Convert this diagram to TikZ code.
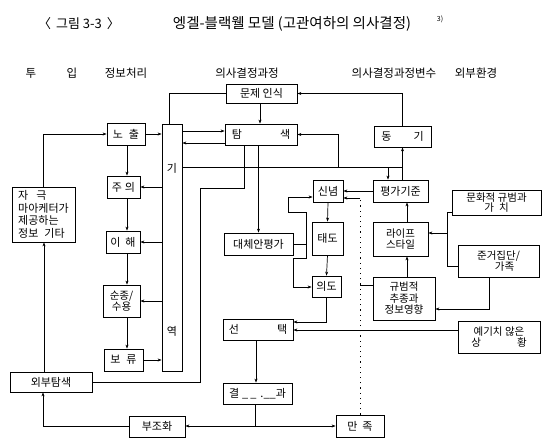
\documentclass[tikz,border=0pt]{standalone}
\usepackage{fontspec}
\setmainfont{Noto Sans CJK KR}
\usetikzlibrary{arrows.meta,calc}
\begin{document}
\begin{tikzpicture}[x=1pt,y=-1pt,
  box/.style={draw, line width=0.8pt, inner sep=1pt, font=\fontsize{11}{12}\selectfont, align=center},
  lbl/.style={inner sep=0pt, font=\fontsize{11}{12}\selectfont},
  hdr/.style={inner sep=0pt, font=\fontsize{11.5}{12}\selectfont},
  arr/.style={line width=0.7pt, -{Stealth[length=4pt,width=3pt]}},
  ln/.style={line width=0.7pt},
  dots/.style={line width=0.8pt, dash pattern=on 1.2pt off 4pt}]
\fill[white] (0,0) rectangle (552,442);
\useasboundingbox (0,0) rectangle (552,442);

% title
\node[inner sep=0pt, font=\fontsize{13}{15}\selectfont] (t1) at (79,24) {〈\hspace{5pt}그림 3-3\hspace{5pt}〉};
\node[inner sep=0pt, font=\fontsize{14.5}{16}\selectfont] (t2) at (292,24) {엥겔-블랙웰 모델 (고관여하의 의사결정)};
\node[inner sep=0pt, font=\fontsize{7}{8}\selectfont] (t3) at (440,19) {3)};

% headers
\node[hdr] (h1) at (31,73) {투};
\node[hdr] (h2) at (72,73) {입};
\node[hdr] (h3) at (126,73) {정보처리};
\node[hdr] (h4) at (247,73) {의사결정과정};
\node[hdr] (h5) at (394,73) {의사결정과정변수};
\node[hdr] (h6) at (476,73) {외부환경};

% information processing
\node[box, minimum width=38pt, minimum height=22pt] (noch) at (126,134) {노\hspace{6pt}출};
\node[box, minimum width=20pt, minimum height=247pt] (mem) at (172,247.5) {};
\node[lbl] (mk1) at (172,168) {기};
\node[lbl] (mk2) at (172,331) {역};
\node[box, minimum width=33pt, minimum height=22pt] (jui) at (123.5,187) {주\hspace{3pt}의};
\node[box, minimum width=63pt, minimum height=55pt, align=left, font=\fontsize{11}{12.5}\selectfont] (stim) at (43.5,214.5) {자\hspace{8pt}극\\마아케터가\\제공하는\\정보\hspace{6pt}기타};
\node[box, minimum width=34pt, minimum height=22pt] (ihae) at (123,242) {이\hspace{5pt}해};
\node[box, minimum width=37pt, minimum height=32pt, font=\fontsize{10.5}{11.5}\selectfont] (sun) at (121.5,301) {순종/\\수용};
\node[box, minimum width=39pt, minimum height=22pt] (bory) at (123.5,360) {보\hspace{6pt}류};
\node[box, minimum width=82pt, minimum height=20pt] (ext) at (51,382) {외부탐색};
\node[box, minimum width=56pt, minimum height=21pt] (buj) at (157,426.5) {부조화};

% decision process
\node[box, minimum width=71pt, minimum height=19pt] (prob) at (261.5,93.5) {문제 인식};
\node[box, minimum width=72pt, minimum height=21pt] (srch) at (261,134.5) {탐\hspace{38pt}색};
\node[box, minimum width=69pt, minimum height=22pt] (alt) at (258.5,244) {대체안평가};
\node[box, minimum width=70pt, minimum height=21pt] (choice) at (258,329.5) {선\hspace{38pt}택};
\node[box, minimum width=69pt, minimum height=21pt] (res) at (257.5,393.5) {결\hspace{3pt}\_\hspace{2pt}\_\hspace{4pt}.\_\_과};
\node[box, minimum width=48pt, minimum height=22pt] (sat) at (360,426) {만\hspace{5pt}족};

% variables
\node[box, minimum width=30pt, minimum height=22pt] (belief) at (328,191) {신념};
\node[box, minimum width=31pt, minimum height=33pt] (att) at (327.5,238.5) {태도};
\node[box, minimum width=29pt, minimum height=21pt] (int) at (326.5,286.5) {의도};
\node[box, minimum width=57pt, minimum height=21pt] (mot) at (402.5,136.5) {동\hspace{22pt}기};
\node[box, minimum width=55pt, minimum height=22pt] (crit) at (400.5,191) {평가기준};
\node[box, minimum width=55pt, minimum height=34pt, font=\fontsize{10.5}{11.5}\selectfont] (life) at (400.5,239) {라이프\\스타일};
\node[box, minimum width=62pt, minimum height=43pt, font=\fontsize{10.5}{11.5}\selectfont] (norm) at (404,298.5) {규범적\\추종과\\정보영향};

% environment
\node[box, minimum width=89pt, minimum height=25pt, font=\fontsize{10.5}{10.5}\selectfont] (cult) at (496.5,202.5) {문화적 규범과\\가\hspace{5pt}치};
\node[box, minimum width=81pt, minimum height=32pt, font=\fontsize{10.5}{11}\selectfont] (ref) at (498.5,261) {준거집단/\\\hspace{12pt}가족};
\node[box, minimum width=82pt, minimum height=32pt, font=\fontsize{10.5}{11}\selectfont] (unex) at (499,337) {예기치 않은\\상\hspace{36pt}황};

% connectors: information processing
\draw[arr] (stim.north) |- (noch.west);
\draw[arr] (noch.east) -- (noch.east -| mem.west);
\draw[arr] (noch.south -| 127,0) -- (jui.north -| 127,0);
\draw[arr] (jui.east -| mem.west) -- (jui.east);
\draw[arr] (jui.south -| 127,0) -- (ihae.north -| 127,0);
\draw[arr] (ihae.east -| mem.west) -- (ihae.east);
\draw[arr] (ihae.south -| 127,0) -- (sun.north -| 127,0);
\draw[arr] (sun.east -| mem.west) -- (sun.east);
\draw[arr] (sun.south -| 127,0) -- (bory.north -| 127,0);
\draw[arr] (bory.east) -- (bory.east -| mem.west);
\draw[ln] (mem.north -| 169,0) |- (prob.west);
\draw[arr] (ext.north -| 44,0) -- (stim.south -| 44,0);
\draw[arr] (buj.west) -| (ext.south -| 43,0);

% decision process
\draw[arr] (prob.south -| 260,0) -- (srch.north -| 260,0);
\draw[arr] (mot.north) |- (prob.east);
\draw[arr] (mem.east |- 0,131) -- (srch.west |- 0,131);
\draw[arr] (srch.west |- 0,143) -- (mem.east |- 0,143);
\draw[ln] (srch.south -| 244,0) -- (244,188) -- (200,188) -- (200,382) -- (ext.east);
\draw[arr] (srch.south -| alt.north) -- (alt.north);
\draw[ln] (mem.east |- 0,167) -- (mot.south |- 0,167);
\draw[arr] (crit.north -| mot.south) -- (mot.south);
\draw[arr] (388,167) -- (crit.north -| 388,0);
\draw[arr] (338,167) |- (srch.east);
\draw[arr] (crit.west) -- (belief.east);
\draw[dots] (sat.north) -- (360,199);
\draw[arr] (360,198) -- (belief.east |- 0,198);
\draw[ln] (alt.east) -- (306,244);
\draw[arr] (306,244) -- (306,212) -- (288,212) -- (288,197) -- (belief.west |- 0,197);
\draw[arr] (306,244) -- (306,258) -- (293,258) -- (293,287) -- (int.west |- 0,287);
\draw[arr] (belief.south) -- (att.north);
\draw[arr] (att.south) -- (int.north);
\draw[arr] (int.south) |- (choice.east |- 0,322);
\draw[arr] (choice.south -| 256,0) -- (res.north -| 256,0);
\draw[ln] (res.south -| 255,0) -- (255,426);
\draw[arr] (255,426) -- (buj.east |- 0,426);
\draw[arr] (255,426) -- (sat.west |- 0,426);

% variables & environment
\draw[arr] (norm.north -| 407,0) -- (life.south -| 407,0);
\draw[arr] (life.north -| 407,0) -- (crit.south -| 407,0);
\draw[ln] (cult.west |- 0,212) -- (447,212) -- (447,266) -- (ref.west |- 0,266);
\draw[arr] (447,233) -- (life.east |- 0,233);
\draw[arr] (ref.south -| 489,0) |- (norm.east |- 0,309);
\draw[ln] (norm.west |- 0,285) -- (360,285);
\draw[arr] (unex.west |- 0,330) -- (choice.east |- 0,330);
\end{tikzpicture}
\end{document}
